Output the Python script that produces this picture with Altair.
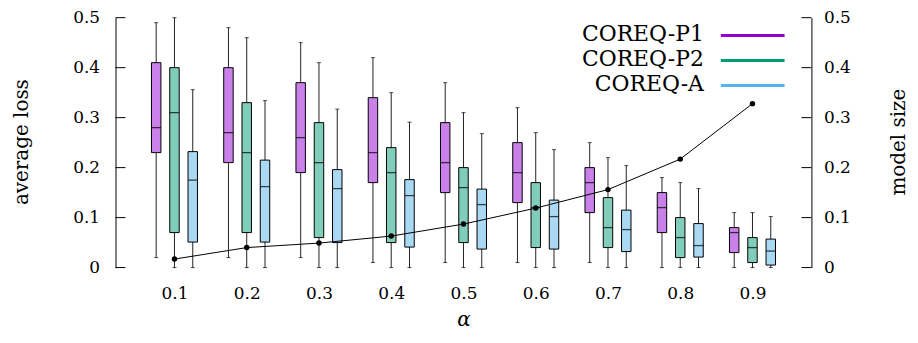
import altair as alt
import pandas as pd

# ---------------- data ----------------
alpha = [0.1, 0.2, 0.3, 0.4, 0.5, 0.6, 0.7, 0.8, 0.9]
series = ["COREQ-P1", "COREQ-P2", "COREQ-A"]

p1_low = [0.02, 0.02, 0.02, 0.01, 0.01, 0.01, 0.01, 0.0, 0.0]
p1_q1 = [0.23, 0.21, 0.19, 0.17, 0.15, 0.13, 0.11, 0.07, 0.03]
p1_med = [0.28, 0.27, 0.26, 0.23, 0.21, 0.19, 0.17, 0.12, 0.07]
p1_q3 = [0.41, 0.40, 0.37, 0.34, 0.29, 0.25, 0.20, 0.15, 0.08]
p1_high = [0.49, 0.48, 0.45, 0.42, 0.37, 0.32, 0.25, 0.18, 0.11]

p2_low = [0.0, 0.0, 0.0, 0.0, 0.0, 0.0, 0.0, 0.0, 0.0]
p2_q1 = [0.07, 0.07, 0.06, 0.05, 0.05, 0.04, 0.04, 0.02, 0.01]
p2_med = [0.31, 0.23, 0.21, 0.19, 0.16, 0.12, 0.08, 0.06, 0.04]
p2_q3 = [0.40, 0.33, 0.29, 0.24, 0.20, 0.17, 0.14, 0.10, 0.06]
p2_high = [0.50, 0.46, 0.41, 0.35, 0.31, 0.27, 0.22, 0.17, 0.11]

a_low = [0.0, 0.0, 0.0, 0.0, 0.0, 0.0, 0.0, 0.0, 0.0]
a_q1 = [0.051, 0.051, 0.050, 0.041, 0.037, 0.037, 0.032, 0.021, 0.005]
a_med = [0.175, 0.162, 0.158, 0.144, 0.126, 0.102, 0.076, 0.044, 0.033]
a_q3 = [0.232, 0.215, 0.196, 0.176, 0.157, 0.135, 0.115, 0.088, 0.057]
a_high = [0.356, 0.334, 0.317, 0.291, 0.268, 0.236, 0.204, 0.158, 0.102]

model_size = [0.017, 0.040, 0.049, 0.063, 0.087, 0.119, 0.156, 0.217, 0.328]

y_ticks = [0, 0.1, 0.2, 0.3, 0.4, 0.5]

# ---------------- styles ----------------
FONT = "DejaVu Serif"
fills = ["#CA80E9", "#80CEB9", "#AAD9F4"]
line_colors = ["#9400D3", "#009E73", "#56B4E9"]

stats = [
    (p1_low, p1_q1, p1_med, p1_q3, p1_high),
    (p2_low, p2_q1, p2_med, p2_q3, p2_high),
    (a_low, a_q1, a_med, a_q3, a_high),
]
rows = []
for si, name in enumerate(series):
    lo, q1, md, q3, hi = stats[si]
    for i, a in enumerate(alpha):
        rows.append(dict(alpha=a, series=name, idx=si, low=lo[i], q1=q1[i],
                         med=md[i], q3=q3[i], high=hi[i]))
box_df = pd.DataFrame(rows)
model_df = pd.DataFrame({"alpha": alpha, "size": model_size})
tick_df = pd.DataFrame({"t": y_ticks})

W, H = 699, 251
TOP = 9

xscale = alt.Scale(domain=[0.0253, 0.9747], nice=False, zero=False)
yscale = alt.Scale(domain=[0, 0.5], nice=False, zero=True)

x_axis = alt.Axis(title="α", values=alpha, format=".1f", domain=False, ticks=False,
                  tickSize=0, grid=False, labelPadding=18, labelFontSize=17,
                  titleFontStyle="italic", titleFontSize=20, titleX=W / 2, titleY=58,
                  titleBaseline="alphabetic")
left_axis = alt.Axis(title="average loss", values=y_ticks, format="~g", ticks=False,
                     tickSize=0, grid=False, labelPadding=16, labelFontSize=17,
                     titleFontSize=20, titleAngle=270, titleX=-88, titleY=H / 2 - 1,
                     titleBaseline="alphabetic", titleAlign="center")
right_axis = alt.Axis(title="model size", orient="right", values=y_ticks, format="~g",
                      ticks=False, tickSize=0, grid=False, labelPadding=12,
                      labelFontSize=17, titleFontSize=20, titleAngle=270, titleX=93,
                      titleY=H / 2 - 1, titleBaseline="alphabetic", titleAlign="center")

base = alt.Chart(box_df).transform_calculate(pos="datum.alpha + (datum.idx - 1) * 0.0253")
X = alt.X("pos:Q", scale=xscale, axis=x_axis)


def YL(field):
    return alt.Y(field, scale=yscale, axis=left_axis)


def YR(field):
    return alt.Y(field, scale=yscale, axis=right_axis)


color = alt.Color("series:N", scale=alt.Scale(domain=series, range=fills), legend=None)

whisk = base.mark_rule(color="#222222", strokeWidth=1).encode(x=X, y=YL("low:Q"), y2="high:Q")
cap_hi = base.mark_tick(orient="horizontal", size=4, thickness=1, color="black").encode(
    x=X, y=YL("high:Q"))
cap_lo = base.mark_tick(orient="horizontal", size=4, thickness=1, color="black").encode(
    x=X, y=YL("low:Q"))
boxes = base.mark_bar(size=9.5, stroke="black", strokeWidth=1).encode(
    x=X, y=YL("q1:Q"), y2="q3:Q", color=color)
medians = base.mark_tick(orient="horizontal", size=9.5, thickness=1.3, color="black").encode(
    x=X, y=YL("med:Q"))
left_ticks = alt.Chart(tick_df).mark_rule(color="black", strokeWidth=1).encode(
    x=alt.value(0), x2=alt.value(10), y=YL("t:Q"))

left = alt.layer(whisk, cap_hi, cap_lo, boxes, medians, left_ticks)

XM = alt.X("alpha:Q", scale=xscale, axis=x_axis)
mline = alt.Chart(model_df).mark_line(color="black", strokeWidth=1).encode(x=XM, y=YR("size:Q"))
mpts = alt.Chart(model_df).mark_circle(size=30, color="black", opacity=1).encode(
    x=XM, y=YR("size:Q"))
right_ticks = alt.Chart(tick_df).mark_rule(color="black", strokeWidth=1).encode(
    x=alt.value(W - 10), x2=alt.value(W), y=YR("t:Q"))
right = alt.layer(right_ticks, mline, mpts)

legend_layers = []
for i, name in enumerate(series):
    ldf = pd.DataFrame({"series": [name]})
    legend_layers.append(
        alt.Chart(ldf).mark_text(align="right", baseline="alphabetic", font=FONT,
                                 fontSize=22, color="black").encode(
            x=alt.value(591), y=alt.value(23.5 + 25 * i), text="series:N"))
    legend_layers.append(
        alt.Chart(ldf).mark_rule(strokeWidth=3, color=line_colors[i]).encode(
            x=alt.value(608), x2=alt.value(672), y=alt.value(18 + 25 * i)))

chart = alt.layer(left, right, *legend_layers).resolve_scale(y="independent").properties(
    width=W, height=H,
    autosize=alt.AutoSizeParams(type="none"),
    padding={"left": 108, "right": 99, "top": TOP, "bottom": 327 - TOP - H},
).configure_view(strokeWidth=0).configure_axis(
    labelFont=FONT, titleFont=FONT, labelColor="black", titleColor="black",
    domainColor="black", domainWidth=1, titleFontWeight="normal",
)

chart.save("out.html", embed_options={"renderer": "svg", "actions": False})
